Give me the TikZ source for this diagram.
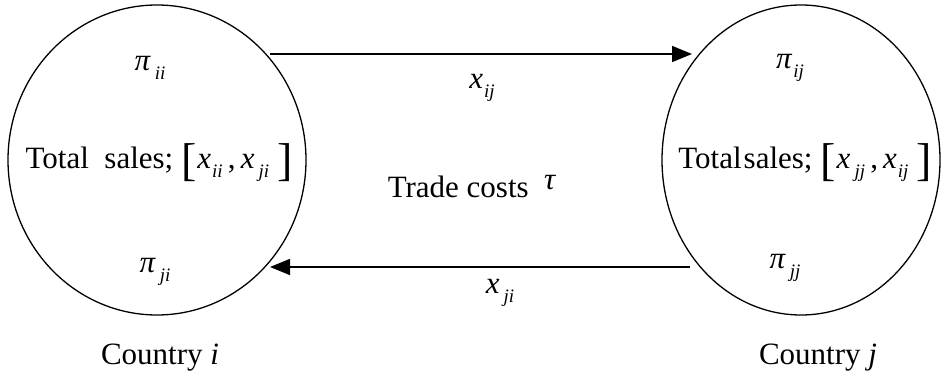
\documentclass[tikz,border=0pt]{standalone}
\usepackage{fontspec}
\setmainfont{Liberation Serif}
\usetikzlibrary{shapes.geometric,arrows.meta}
\newcommand{\vsub}[2]{\textit{#1}\kern1pt\raisebox{-9pt}{\fontsize{19}{19}\selectfont\textit{#2}}}
\newcommand{\bigbr}[1]{\raisebox{-7pt}{\fontsize{46}{46}\selectfont #1}}
\begin{document}
\begin{tikzpicture}[x=1pt,y=-1pt,
  country/.style={draw,ellipse,line width=1.3pt,inner sep=0pt},
  lbl/.style={inner sep=0pt,font=\fontsize{31}{36}\selectfont},
  flow/.style={line width=1.5pt,-{Triangle[length=20pt,width=16pt]}}]
\useasboundingbox (0,0) rectangle (941,387);
\node[country,minimum width=298pt,minimum height=310pt] (L) at (157,160) {};
\node[country,minimum width=278pt,minimum height=310pt] (R) at (801,160) {};
\node[lbl] (pii) at (150,68) {\vsub{π}{\,ii}};
\node[lbl] (pji) at (155,272) {\vsub{π}{\,ji}};
\node[lbl] (pij) at (790,68) {\vsub{π}{ij}};
\node[lbl] (pjj) at (785,268) {\vsub{π}{\,jj}};
\node[lbl] (tsl) at (159,163) {Total\ \ sales;\ \bigbr{[}\kern1pt\vsub{x}{ii}\,,\,\vsub{x}{\,ji}\ \bigbr{]}};
\node[lbl] (tsr) at (805,163) {Total\kern2pt sales;\ \bigbr{[}\kern1pt\vsub{x}{\,jj}\,,\,\vsub{x}{ij}\ \bigbr{]}};
\node[lbl] (tc) at (472,187) {Trade costs\ \ \raisebox{8pt}{\textit{τ}}};
\node[lbl] (xij) at (482,88) {\vsub{x}{ij}};
\node[lbl] (xji) at (500,293) {\vsub{x}{\,ji}};
\node[lbl] (ci) at (160,358) {Country \textit{i}};
\node[lbl] (cj) at (818,358) {Country \textit{j}};
\coordinate (a1) at (270,54);
\coordinate (a2) at (692,54);
\coordinate (b1) at (690,267);
\coordinate (b2) at (270,267);
\draw[flow] (a1) -- (a2);
\draw[flow] (b1) -- (b2);
\end{tikzpicture}
\end{document}
